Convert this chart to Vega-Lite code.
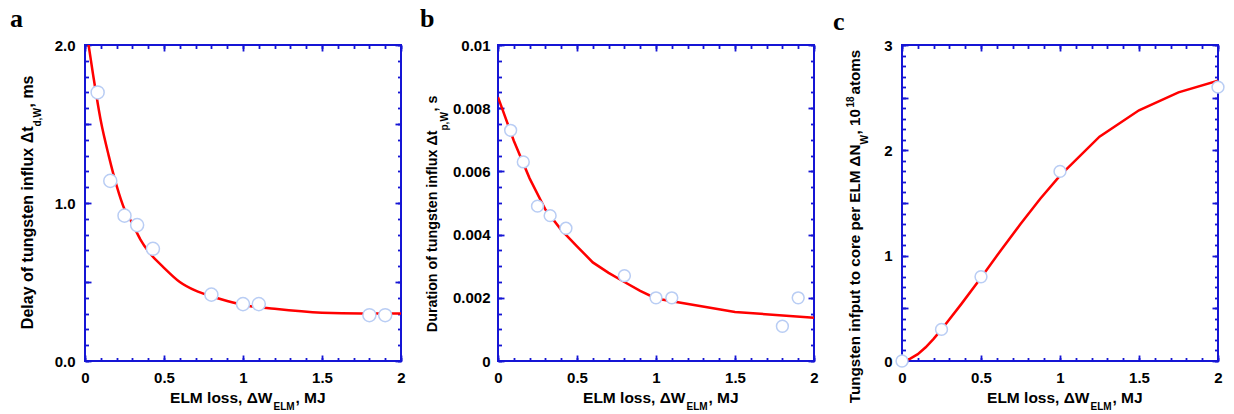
{
  "$schema": "https://vega.github.io/schema/vega-lite/v6.json",
  "background": "white",
  "padding": {"left": 9, "top": 5, "right": 0, "bottom": 0},
  "config": {
    "view": {"stroke": "#1515d5", "strokeWidth": 2},
    "axis": {
      "domain": false, "grid": false,
      "tickColor": "#1515d5", "tickWidth": 1.8,
      "labelFont": "Liberation Sans", "labelFontWeight": "bold", "labelFontSize": 15, "labelColor": "#000000",
      "labelFlush": false, "labelOverlap": false,
      "titleFont": "Liberation Sans", "titleFontWeight": "bold", "titleFontSize": 15.5, "titleColor": "#000000",
      "titleBaseline": "alphabetic", "titlePadding": 0
    },
    "title": {"font": "Liberation Serif", "fontWeight": "bold", "fontSize": 26, "color": "#000000", "anchor": "start", "frame": "group", "baseline": "alphabetic"}
  },
  "datasets": {
    "a_pts": [
      {"x": 0.08, "y": 1.70}, {"x": 0.16, "y": 1.14}, {"x": 0.25, "y": 0.92}, {"x": 0.33, "y": 0.86},
      {"x": 0.43, "y": 0.71}, {"x": 0.8, "y": 0.42}, {"x": 1.0, "y": 0.36}, {"x": 1.1, "y": 0.36},
      {"x": 1.8, "y": 0.29}, {"x": 1.9, "y": 0.29}
    ],
    "a_fit": [
      {"x": 0, "y": 2.15}, {"x": 0.05, "y": 1.82}, {"x": 0.1, "y": 1.52}, {"x": 0.15, "y": 1.30},
      {"x": 0.2, "y": 1.11}, {"x": 0.25, "y": 0.96}, {"x": 0.3, "y": 0.87}, {"x": 0.35, "y": 0.77},
      {"x": 0.4, "y": 0.695}, {"x": 0.5, "y": 0.59}, {"x": 0.6, "y": 0.50}, {"x": 0.7, "y": 0.445},
      {"x": 0.8, "y": 0.41}, {"x": 0.9, "y": 0.38}, {"x": 1.0, "y": 0.355}, {"x": 1.2, "y": 0.33},
      {"x": 1.5, "y": 0.305}, {"x": 1.75, "y": 0.30}, {"x": 2.0, "y": 0.30}
    ],
    "b_pts": [
      {"x": 0.08, "y": 0.0073}, {"x": 0.16, "y": 0.0063}, {"x": 0.25, "y": 0.0049}, {"x": 0.33, "y": 0.0046},
      {"x": 0.43, "y": 0.0042}, {"x": 0.8, "y": 0.0027}, {"x": 1.0, "y": 0.0020}, {"x": 1.1, "y": 0.0020},
      {"x": 1.8, "y": 0.0011}, {"x": 1.9, "y": 0.0020}
    ],
    "b_fit": [
      {"x": 0, "y": 0.00835}, {"x": 0.1, "y": 0.00697}, {"x": 0.2, "y": 0.00578}, {"x": 0.3, "y": 0.00479},
      {"x": 0.4, "y": 0.00415}, {"x": 0.5, "y": 0.00363}, {"x": 0.6, "y": 0.00312}, {"x": 0.7, "y": 0.00279},
      {"x": 0.8, "y": 0.00250}, {"x": 0.9, "y": 0.00222}, {"x": 1.0, "y": 0.00198}, {"x": 1.5, "y": 0.00155},
      {"x": 2.0, "y": 0.00137}
    ],
    "c_pts": [
      {"x": 0, "y": 0}, {"x": 0.25, "y": 0.30}, {"x": 0.5, "y": 0.80}, {"x": 1.0, "y": 1.80}, {"x": 2.0, "y": 2.60}
    ],
    "c_fit": [
      {"x": 0, "y": 0}, {"x": 0.05, "y": 0.02}, {"x": 0.1, "y": 0.065}, {"x": 0.15, "y": 0.13},
      {"x": 0.2, "y": 0.21}, {"x": 0.25, "y": 0.30}, {"x": 0.375, "y": 0.54}, {"x": 0.5, "y": 0.79},
      {"x": 0.625, "y": 1.05}, {"x": 0.75, "y": 1.30}, {"x": 0.875, "y": 1.54}, {"x": 1.0, "y": 1.76},
      {"x": 1.25, "y": 2.13}, {"x": 1.5, "y": 2.38}, {"x": 1.75, "y": 2.55}, {"x": 2.0, "y": 2.66}
    ]
  },
  "spacing": 12,
  "hconcat": [
    {
      "width": 316, "height": 316,
      "title": {"text": "a", "dx": -75, "offset": 6},
      "resolve": {"axis": {"x": "independent", "y": "independent"}},
      "layer": [
        {
          "data": {"name": "a_pts"},
          "mark": {"type": "point", "opacity": 0},
          "encoding": {
            "x": {"field": "x", "type": "quantitative", "scale": {"domain": [0, 2], "nice": false},
              "axis": {"orient": "top", "values": [0, 0.5, 1, 1.5, 2], "tickSize": -6, "labels": false,
                "title": ", MJ", "titleAlign": "left", "titleX": 210, "titleY": 357}},
            "y": {"field": "y", "type": "quantitative", "scale": {"domain": [0, 2], "nice": false},
              "axis": {"orient": "right", "values": [0, 0.5, 1, 1.5, 2], "tickSize": -6, "labels": false,
                "title": ", ms", "titleFontSize": 16, "titleAngle": 270, "titleAlign": "left", "titleX": -369, "titleY": 62}}
          }
        },
        {
          "data": {"name": "a_pts"},
          "mark": {"type": "point", "opacity": 0},
          "encoding": {
            "x": {"field": "x", "type": "quantitative", "scale": {"domain": [0, 2], "nice": false},
              "axis": {"orient": "top", "values": [0, 0.1, 0.2, 0.3, 0.4, 0.5, 0.6, 0.7, 0.8, 0.9, 1, 1.1, 1.2, 1.3, 1.4, 1.5, 1.6, 1.7, 1.8, 1.9, 2], "tickSize": -3.5, "labels": false, "title": null}},
            "y": {"field": "y", "type": "quantitative", "scale": {"domain": [0, 2], "nice": false},
              "axis": {"orient": "right", "values": [0, 0.1, 0.2, 0.3, 0.4, 0.5, 0.6, 0.7, 0.8, 0.9, 1, 1.1, 1.2, 1.3, 1.4, 1.5, 1.6, 1.7, 1.8, 1.9, 2], "tickSize": -3.5, "labels": false, "title": null}}
          }
        },
        {
          "data": {"name": "a_fit"},
          "mark": {"type": "line", "color": "#ff0000", "strokeWidth": 2.5, "clip": true, "interpolate": "monotone"},
          "encoding": {
            "x": {"field": "x", "type": "quantitative", "scale": {"domain": [0, 2], "nice": false},
              "axis": {"orient": "bottom", "values": [0, 0.5, 1, 1.5, 2], "tickSize": -6, "labelPadding": 15, "format": "~g",
                "title": "ELM loss, ΔW", "titleAlign": "right", "titleX": 187, "titleY": 41}},
            "y": {"field": "y", "type": "quantitative", "scale": {"domain": [0, 2], "nice": false},
              "axis": {"orient": "left", "values": [0, 0.5, 1, 1.5, 2], "tickSize": -6, "labelPadding": 16,
                "labelExpr": "datum.value % 1 == 0 ? format(datum.value, '.1f') : ''",
                "title": "Delay of tungsten influx Δt", "titleFontSize": 16, "titleAngle": 270, "titleAlign": "right", "titleX": -53, "titleY": 81}}
          }
        },
        {
          "data": {"name": "a_pts"},
          "mark": {"type": "point", "shape": "circle", "size": 170, "fill": "#ffffff", "fillOpacity": 1, "stroke": "#b9cdf4", "strokeWidth": 1.5, "opacity": 1},
          "encoding": {
            "x": {"field": "x", "type": "quantitative", "scale": {"domain": [0, 2], "nice": false},
              "axis": {"orient": "bottom", "values": [0, 0.1, 0.2, 0.3, 0.4, 0.5, 0.6, 0.7, 0.8, 0.9, 1, 1.1, 1.2, 1.3, 1.4, 1.5, 1.6, 1.7, 1.8, 1.9, 2], "tickSize": -3.5, "labels": false,
                "title": "ELM", "titleFontSize": 10, "titleAlign": "left", "titleX": 188, "titleY": 48}},
            "y": {"field": "y", "type": "quantitative", "scale": {"domain": [0, 2], "nice": false},
              "axis": {"orient": "left", "values": [0, 0.1, 0.2, 0.3, 0.4, 0.5, 0.6, 0.7, 0.8, 0.9, 1, 1.1, 1.2, 1.3, 1.4, 1.5, 1.6, 1.7, 1.8, 1.9, 2], "tickSize": -3.5, "labels": false,
                "title": "d,W", "titleFontSize": 10, "titleAngle": 270, "titleAlign": "left", "titleX": -45, "titleY": 81}}
          }
        }
      ]
    },
    {
      "width": 316, "height": 316,
      "title": {"text": "b", "dx": -78, "offset": 6},
      "resolve": {"axis": {"x": "independent", "y": "independent"}},
      "layer": [
        {
          "data": {"name": "b_pts"},
          "mark": {"type": "point", "opacity": 0},
          "encoding": {
            "x": {"field": "x", "type": "quantitative", "scale": {"domain": [0, 2], "nice": false},
              "axis": {"orient": "top", "values": [0, 0.5, 1, 1.5, 2], "tickSize": -6, "labels": false,
                "title": ", MJ", "titleAlign": "left", "titleX": 210, "titleY": 357}},
            "y": {"field": "y", "type": "quantitative", "scale": {"domain": [0, 0.01], "nice": false},
              "axis": {"orient": "right", "values": [0, 0.002, 0.004, 0.006, 0.008, 0.01], "tickSize": -6, "labels": false,
                "title": ", s", "titleFontSize": 14.3, "titleAngle": 270, "titleAlign": "left", "titleX": -378, "titleY": 66}}
          }
        },
        {
          "data": {"name": "b_pts"},
          "mark": {"type": "point", "opacity": 0},
          "encoding": {
            "x": {"field": "x", "type": "quantitative", "scale": {"domain": [0, 2], "nice": false},
              "axis": {"orient": "top", "values": [0, 0.1, 0.2, 0.3, 0.4, 0.5, 0.6, 0.7, 0.8, 0.9, 1, 1.1, 1.2, 1.3, 1.4, 1.5, 1.6, 1.7, 1.8, 1.9, 2], "tickSize": -3.5, "labels": false, "title": null}},
            "y": {"field": "y", "type": "quantitative", "scale": {"domain": [0, 0.01], "nice": false},
              "axis": {"orient": "right", "values": [0, 0.0005, 0.001, 0.0015, 0.002, 0.0025, 0.003, 0.0035, 0.004, 0.0045, 0.005, 0.0055, 0.006, 0.0065, 0.007, 0.0075, 0.008, 0.0085, 0.009, 0.0095, 0.01], "tickSize": -3.5, "labels": false, "title": null}}
          }
        },
        {
          "data": {"name": "b_fit"},
          "mark": {"type": "line", "color": "#ff0000", "strokeWidth": 2.5, "clip": true},
          "encoding": {
            "x": {"field": "x", "type": "quantitative", "scale": {"domain": [0, 2], "nice": false},
              "axis": {"orient": "bottom", "values": [0, 0.5, 1, 1.5, 2], "tickSize": -6, "labelPadding": 15, "format": "~g",
                "title": "ELM loss, ΔW", "titleAlign": "right", "titleX": 187, "titleY": 41}},
            "y": {"field": "y", "type": "quantitative", "scale": {"domain": [0, 0.01], "nice": false},
              "axis": {"orient": "left", "values": [0, 0.002, 0.004, 0.006, 0.008, 0.01], "tickSize": -6, "labelPadding": 14, "format": "~g",
                "title": "Duration of tungsten influx Δt", "titleFontSize": 14.3, "titleAngle": 270, "titleAlign": "right", "titleX": -62, "titleY": 85}}
          }
        },
        {
          "data": {"name": "b_pts"},
          "mark": {"type": "point", "shape": "circle", "size": 140, "fill": "#ffffff", "fillOpacity": 1, "stroke": "#b9cdf4", "strokeWidth": 1.5, "opacity": 1},
          "encoding": {
            "x": {"field": "x", "type": "quantitative", "scale": {"domain": [0, 2], "nice": false},
              "axis": {"orient": "bottom", "values": [0, 0.1, 0.2, 0.3, 0.4, 0.5, 0.6, 0.7, 0.8, 0.9, 1, 1.1, 1.2, 1.3, 1.4, 1.5, 1.6, 1.7, 1.8, 1.9, 2], "tickSize": -3.5, "labels": false,
                "title": "ELM", "titleFontSize": 10, "titleAlign": "left", "titleX": 188, "titleY": 48}},
            "y": {"field": "y", "type": "quantitative", "scale": {"domain": [0, 0.01], "nice": false},
              "axis": {"orient": "left", "values": [0, 0.0005, 0.001, 0.0015, 0.002, 0.0025, 0.003, 0.0035, 0.004, 0.0045, 0.005, 0.0055, 0.006, 0.0065, 0.007, 0.0075, 0.008, 0.0085, 0.009, 0.0095, 0.01], "tickSize": -3.5, "labels": false,
                "title": "p,W", "titleFontSize": 10, "titleAngle": 270, "titleAlign": "left", "titleX": -51, "titleY": 85}}
          }
        }
      ]
    },
    {
      "width": 316, "height": 316,
      "title": {"text": "c", "dx": -69, "offset": 3.5},
      "resolve": {"axis": {"x": "independent", "y": "independent"}},
      "layer": [
        {
          "data": {"name": "c_pts"},
          "mark": {"type": "point", "opacity": 0},
          "encoding": {
            "x": {"field": "x", "type": "quantitative", "scale": {"domain": [0, 2], "nice": false}, "axis": null},
            "y": {"field": "y", "type": "quantitative", "scale": {"domain": [0, 3], "nice": false},
              "axis": {"orient": "left", "ticks": false, "labels": false, "values": [0],
                "title": "atoms", "titleFontSize": 15.2, "titleAngle": 270, "titleAlign": "left", "titleX": -43, "titleY": 49}}
          }
        },
        {
          "data": {"name": "c_pts"},
          "mark": {"type": "point", "opacity": 0},
          "encoding": {
            "x": {"field": "x", "type": "quantitative", "scale": {"domain": [0, 2], "nice": false},
              "axis": {"orient": "top", "values": [0, 0.5, 1, 1.5, 2], "tickSize": -6, "labels": false,
                "title": ", MJ", "titleAlign": "left", "titleX": 210, "titleY": 357}},
            "y": {"field": "y", "type": "quantitative", "scale": {"domain": [0, 3], "nice": false},
              "axis": {"orient": "right", "values": [0, 0.5, 1, 1.5, 2, 2.5, 3], "tickSize": -6, "labels": false,
                "title": ", 10", "titleFontSize": 15.2, "titleAngle": 270, "titleAlign": "left", "titleX": -359, "titleY": 89}}
          }
        },
        {
          "data": {"name": "c_pts"},
          "mark": {"type": "point", "opacity": 0},
          "encoding": {
            "x": {"field": "x", "type": "quantitative", "scale": {"domain": [0, 2], "nice": false},
              "axis": {"orient": "top", "values": [0, 0.1, 0.2, 0.3, 0.4, 0.5, 0.6, 0.7, 0.8, 0.9, 1, 1.1, 1.2, 1.3, 1.4, 1.5, 1.6, 1.7, 1.8, 1.9, 2], "tickSize": -3.5, "labels": false, "title": null}},
            "y": {"field": "y", "type": "quantitative", "scale": {"domain": [0, 3], "nice": false},
              "axis": {"orient": "right", "values": [0, 0.1, 0.2, 0.3, 0.4, 0.5, 0.6, 0.7, 0.8, 0.9, 1, 1.1, 1.2, 1.3, 1.4, 1.5, 1.6, 1.7, 1.8, 1.9, 2, 2.1, 2.2, 2.3, 2.4, 2.5, 2.6, 2.7, 2.8, 2.9, 3], "tickSize": -3.5, "labels": false,
                "title": "18", "titleFontSize": 10, "titleAngle": 270, "titleAlign": "left", "titleX": -365, "titleY": 62}}
          }
        },
        {
          "data": {"name": "c_fit"},
          "mark": {"type": "line", "color": "#ff0000", "strokeWidth": 2.5, "clip": true},
          "encoding": {
            "x": {"field": "x", "type": "quantitative", "scale": {"domain": [0, 2], "nice": false},
              "axis": {"orient": "bottom", "values": [0, 0.5, 1, 1.5, 2], "tickSize": -6, "labelPadding": 15, "format": "~g",
                "title": "ELM loss, ΔW", "titleAlign": "right", "titleX": 187, "titleY": 41}},
            "y": {"field": "y", "type": "quantitative", "scale": {"domain": [0, 3], "nice": false},
              "axis": {"orient": "left", "values": [0, 0.5, 1, 1.5, 2, 2.5, 3], "tickSize": -6, "labelPadding": 16,
                "labelExpr": "datum.value % 1 == 0 ? format(datum.value, 'd') : ''",
                "title": "Tungsten infput to core per ELM ΔN", "titleFontSize": 15.2, "titleAngle": 270, "titleAlign": "right", "titleX": -43, "titleY": 99}}
          }
        },
        {
          "data": {"name": "c_pts"},
          "mark": {"type": "point", "shape": "circle", "size": 140, "fill": "#ffffff", "fillOpacity": 1, "stroke": "#b9cdf4", "strokeWidth": 1.5, "opacity": 1},
          "encoding": {
            "x": {"field": "x", "type": "quantitative", "scale": {"domain": [0, 2], "nice": false},
              "axis": {"orient": "bottom", "values": [0, 0.1, 0.2, 0.3, 0.4, 0.5, 0.6, 0.7, 0.8, 0.9, 1, 1.1, 1.2, 1.3, 1.4, 1.5, 1.6, 1.7, 1.8, 1.9, 2], "tickSize": -3.5, "labels": false,
                "title": "ELM", "titleFontSize": 10, "titleAlign": "left", "titleX": 188, "titleY": 48}},
            "y": {"field": "y", "type": "quantitative", "scale": {"domain": [0, 3], "nice": false},
              "axis": {"orient": "left", "values": [0, 0.1, 0.2, 0.3, 0.4, 0.5, 0.6, 0.7, 0.8, 0.9, 1, 1.1, 1.2, 1.3, 1.4, 1.5, 1.6, 1.7, 1.8, 1.9, 2, 2.1, 2.2, 2.3, 2.4, 2.5, 2.6, 2.7, 2.8, 2.9, 3], "tickSize": -3.5, "labels": false,
                "title": "W", "titleFontSize": 10, "titleAngle": 270, "titleAlign": "left", "titleX": -35, "titleY": 99}}
          }
        }
      ]
    }
  ]
}
